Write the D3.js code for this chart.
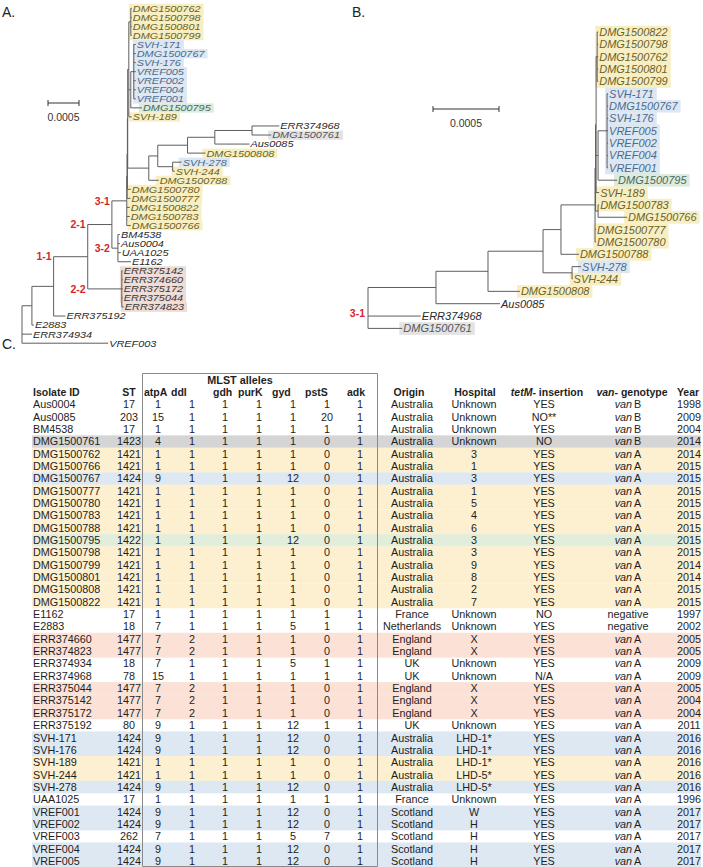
<!DOCTYPE html>
<html><head><meta charset="utf-8">
<script src="https://cdn.jsdelivr.net/npm/d3@7"></script>
<style>
body{margin:0;background:#fff}
svg{display:block}
text{font-family:"Liberation Sans",Arial,Helvetica,sans-serif}
</style>
</head><body>
<svg id="c" width="703" height="867"></svg>
<script>
// ---------------- DATA ----------------
// Branch lengths in units of 1e-5 substitutions/site
const treeA = "(((((((((((DMG1500762:1.6,DMG1500798:1.6,DMG1500801:1.6,DMG1500799:1.6):3.2,((SVH-171:3.2,DMG1500767:3.2,SVH-176:3.2,VREF005:3.2,VREF002:3.2,VREF004:3.2,VREF001:3.2):4.8,DMG1500795:18):3.2,SVH-189:4.8):1.8,(((((ERR374968:44,DMG1500761:31):60,Aus0085:56):44,DMG1500808:29):48,(SVH-278:14.5,SVH-244:3.2):24):14.5,DMG1500788:16):34):0.5,DMG1500780:5.5):0.5,DMG1500777:5.5):0.5,DMG1500822:4.8,DMG1500783:4.8,DMG1500766:6.5)3-1:24,(BM4538:3.2,Aus0004:3.2,UAA1025:4.8,E1162:21)3-2:9.7)2-1:39,(ERR375142:1.6,ERR374660:1.6,ERR375172:1.6,ERR375044:1.6,ERR374823:3.2)2-2:55)1-1:55,ERR375192:19):35,E2883:3.2):16,ERR374934:16,VREF003:139);";
const treeB = "(((((((((DMG1500822:0.8,DMG1500798:0.8,DMG1500762:0.8,DMG1500801:0.8,DMG1500799:0.8):0.8,((SVH-171:0.8,DMG1500767:0.8,SVH-176:0.8,VREF005:0.8,VREF002:0.8,VREF004:0.8,VREF001:0.8):6.8,DMG1500795:14.4):1.5,SVH-189:2.3):0.4,(DMG1500783:0.8,DMG1500766:22):1.9):0.4,DMG1500777:0.8,DMG1500780:0.8):25.8,DMG1500788:13.6):13.6,(SVH-278:6.8,SVH-244:0.4):22):41.7,DMG1500808:24.2):39.4,Aus0085:48.5):51.5,ERR374968:40,DMG1500761:26)3-1;";
const branchUnit = 1e-5;
const scaleBarValue = 0.0005;

const isolates = ["Aus0004","Aus0085","BM4538","DMG1500761","DMG1500762","DMG1500766","DMG1500767","DMG1500777","DMG1500780","DMG1500783","DMG1500788","DMG1500795","DMG1500798","DMG1500799","DMG1500801","DMG1500808","DMG1500822","E1162","E2883","ERR374660","ERR374823","ERR374934","ERR374968","ERR375044","ERR375142","ERR375172","ERR375192","SVH-171","SVH-176","SVH-189","SVH-244","SVH-278","UAA1025","VREF001","VREF002","VREF003","VREF004","VREF005"];
const st    = [17,203,17,1423,1421,1421,1424,1421,1421,1421,1421,1422,1421,1421,1421,1421,1421,17,18,1477,1477,18,78,1477,1477,1477,80,1424,1424,1421,1421,1424,17,1424,1424,262,1424,1424];
const atpA  = [1,15,1,4,1,1,9,1,1,1,1,1,1,1,1,1,1,1,7,7,7,7,15,7,7,7,9,9,9,1,1,9,1,9,9,7,9,9];
const ddl   = [1,1,1,1,1,1,1,1,1,1,1,1,1,1,1,1,1,1,1,2,2,1,1,2,2,2,1,1,1,1,1,1,1,1,1,1,1,1];
const gdh   = [1,1,1,1,1,1,1,1,1,1,1,1,1,1,1,1,1,1,1,1,1,1,1,1,1,1,1,1,1,1,1,1,1,1,1,1,1,1];
const purK  = [1,1,1,1,1,1,1,1,1,1,1,1,1,1,1,1,1,1,1,1,1,1,1,1,1,1,1,1,1,1,1,1,1,1,1,1,1,1];
const gyd   = [1,1,1,1,1,1,12,1,1,1,1,12,1,1,1,1,1,1,5,1,1,5,1,1,1,1,12,12,12,1,1,12,1,12,12,5,12,12];
const pstS  = [1,20,1,0,0,0,0,0,0,0,0,0,0,0,0,0,0,1,1,0,0,1,1,0,0,0,1,0,0,0,0,0,1,0,0,7,0,0];
const adk   = [1,1,1,1,1,1,1,1,1,1,1,1,1,1,1,1,1,1,1,1,1,1,1,1,1,1,1,1,1,1,1,1,1,1,1,1,1,1];
const origin = ["Australia","Australia","Australia","Australia","Australia","Australia","Australia","Australia","Australia","Australia","Australia","Australia","Australia","Australia","Australia","Australia","Australia","France","Netherlands","England","England","UK","UK","England","England","England","UK","Australia","Australia","Australia","Australia","Australia","France","Scotland","Scotland","Scotland","Scotland","Scotland"];
const hospital = ["Unknown","Unknown","Unknown","Unknown","3","1","3","1","5","4","6","3","3","9","8","2","7","Unknown","Unknown","X","X","Unknown","Unknown","X","X","X","Unknown","LHD-1*","LHD-1*","LHD-1*","LHD-5*","LHD-5*","Unknown","W","H","H","H","H"];
const tetM = ["YES","NO**","YES","NO","YES","YES","YES","YES","YES","YES","YES","YES","YES","YES","YES","YES","YES","NO","YES","YES","YES","YES","N/A","YES","YES","YES","YES","YES","YES","YES","YES","YES","YES","YES","YES","YES","YES","YES"];
const vanGenotype = ["B","B","B","B","A","A","A","A","A","A","A","A","A","A","A","A","A","negative","negative","A","A","A","A","A","A","A","A","A","A","A","A","A","A","A","A","A","A","A"];
const year = [1998,2009,2004,2014,2014,2015,2015,2015,2015,2015,2015,2015,2015,2014,2014,2015,2015,1997,2002,2005,2005,2009,2009,2005,2004,2004,2011,2016,2016,2016,2016,2016,1996,2017,2017,2017,2017,2017];
const alleleNames = ["atpA","ddl","gdh","purK","gyd","pstS","adk"];
const alleleValues = [atpA, ddl, gdh, purK, gyd, pstS, adk];

// ---------------- STYLE ----------------
const tableFill = {1421:"#fdf0d0",1424:"#dde8f3",1422:"#e2eedb",1423:"#d5d5d5",1477:"#fbe1d6"};
const treeFill  = {1421:"#f7efc3",1424:"#dce7f2",1422:"#dcebdd",1423:"#e3e3e3",1477:"#ecdcd5"};
const treeTextCol = {1421:"#6c6226",1424:"#4b6b8f",1422:"#4a6a58",1423:"#555555",1477:"#3d3535"};
const stOf = new Map(isolates.map((d,i)=>[d, st[i]]));

const svg = d3.select("#c");

// ---------------- NEWICK ----------------
function parseNewick(s){
  let i=0;
  function node(){
    const n={};
    if(s[i]==='('){
      n.children=[]; i++;
      n.children.push(node());
      while(s[i]===','){ i++; n.children.push(node()); }
      i++;
    }
    let name=''; while(i<s.length && !',():;'.includes(s[i])) name+=s[i++];
    n.name=name.trim();
    n.length=0;
    if(s[i]===':'){ i++; let l=''; while(i<s.length && !',();'.includes(s[i])) l+=s[i++]; n.length=+l; }
    return n;
  }
  return node();
}

function drawTree(opt){
  const root = d3.hierarchy(parseNewick(opt.newick));
  root.each(n=>{ n.dist = n.parent ? n.parent.dist + n.data.length*branchUnit : 0; });
  const leaves = root.leaves();
  const x = d3.scaleLinear().domain([0, scaleBarValue]).range([opt.rootX, opt.rootX + opt.barPx]);
  const y = d3.scaleLinear().domain([0, leaves.length-1]).range([opt.y0, opt.y1]);
  leaves.forEach((l,i)=>{ l.py = y(i); });
  root.eachAfter(n=>{ if(n.children){ n.py = (n.children[0].py + n.children[n.children.length-1].py)/2; } });
  root.each(n=>{ n.px = x(n.dist); });
  const step = (opt.y1-opt.y0)/(leaves.length-1);

  const g = svg.append("g");
  const gRect = g.append("g"), gLine = g.append("g"), gText = g.append("g");
  const lineCol = "#5e5e5e";
  root.descendants().forEach(n=>{
    if(n.parent){
      gLine.append("line").attr("x1",n.parent.px).attr("x2",n.px).attr("y1",n.py).attr("y2",n.py)
        .attr("stroke",lineCol).attr("stroke-width",1);
    }
    if(n.children){
      gLine.append("line").attr("x1",n.px).attr("x2",n.px)
        .attr("y1",n.children[0].py).attr("y2",n.children[n.children.length-1].py)
        .attr("stroke",lineCol).attr("stroke-width",1);
    }
  });
  leaves.forEach(l=>{
    const s = stOf.get(l.data.name);
    const t = gText.append("text").attr("x", l.px+1).attr("y", l.py).attr("dy","0.36em")
      .attr("font-size", opt.fontSize).attr("font-style","italic")
      .attr("fill", treeTextCol[s] || "#2a2a2a").text(l.data.name);
    let w = t.node().getComputedTextLength();
    if(opt.stretch !== 1){
      w = w*opt.stretch;
      t.attr("textLength", w).attr("lengthAdjust","spacingAndGlyphs");
    }
    if(treeFill[s]){
      gRect.append("rect").attr("x", l.px-3).attr("y", l.py-step/2).attr("width", w+7).attr("height", step+0.3)
        .attr("fill", treeFill[s]);
    }
  });
  // clade labels
  root.descendants().filter(n=>n.children && n.data.name).forEach(n=>{
    const lx = n.parent ? n.parent.px - 2 : n.px - 3;
    const ly = n.parent ? n.py : n.py + 5;
    gText.append("text").attr("x", lx).attr("y", ly).attr("dy","0.36em").attr("text-anchor","end")
      .attr("font-size",10.5).attr("font-weight","bold").attr("fill","#d6262b").text(n.data.name);
  });
  // scale bar
  const sb = g.append("g");
  const bx0 = opt.barX, bx1 = opt.barX + (x(scaleBarValue)-x(0));
  sb.append("line").attr("x1",bx0).attr("x2",bx1).attr("y1",opt.barY).attr("y2",opt.barY).attr("stroke","#333");
  [bx0,bx1].forEach(v=>sb.append("line").attr("x1",v).attr("x2",v).attr("y1",opt.barY-3).attr("y2",opt.barY+3).attr("stroke","#333"));
  sb.append("text").attr("x",(bx0+bx1)/2).attr("y",opt.barY+14).attr("dy","0.36em").attr("text-anchor","middle")
    .attr("font-size",10.5).attr("fill","#333").text(String(scaleBarValue));
}

drawTree({newick:treeA, rootX:22, barPx:31, y0:8.3, y1:343.2, barX:48, barY:103, fontSize:9.4, stretch:1.16});
drawTree({newick:treeB, rootX:368, barPx:66, y0:32, y1:328.4, barX:433, barY:109, fontSize:11, stretch:1});

// panel letters
[["A.",2,17],["B.",352,17],["C.",2,349]].forEach(([t,px,py])=>{
  svg.append("text").attr("x",px).attr("y",py).attr("font-size",14).attr("fill","#222").text(t);
});

// ---------------- TABLE ----------------
const tg = svg.append("g");
const rowY = d3.scaleLinear().domain([0, isolates.length-1]).range([404.5, 861]);
const rowH = rowY(1)-rowY(0);
isolates.forEach((d,i)=>{
  if(tableFill[st[i]]) tg.append("rect").attr("x",32).attr("y",rowY(i)-rowH/2).attr("width",669).attr("height",rowH+0.2).attr("fill",tableFill[st[i]]);
});
// box
const box = {x0:142.5, x1:377.5, y0:373.5, y1:866.5};
tg.append("path").attr("d",`M${box.x0},${box.y1}V${box.y0}H${box.x1}V${box.y1}H${box.x0}`).attr("fill","none").attr("stroke","#8a8a8a").attr("stroke-width",1);

const fs = 10.8, col = "#1e1e1e";
function txt(x,y,s,anchor){ return tg.append("text").attr("x",x).attr("y",y).attr("dy","0.36em").attr("font-size",fs).attr("fill",col).attr("text-anchor",anchor||"middle").text(s); }

// headers
const hy = 392;
tg.append("text").attr("x",240).attr("y",380).attr("dy","0.36em").attr("text-anchor","middle").attr("font-size",10.8).attr("font-weight","bold").attr("fill",col).text("MLST alleles");
function head(x,s,anchor){ return tg.append("text").attr("x",x).attr("y",hy).attr("dy","0.36em").attr("font-size",10.5).attr("font-weight","bold").attr("fill",col).attr("text-anchor",anchor||"middle").text(s); }
head(33,"Isolate ID","start");
head(129,"ST");
const headerX = [144,171,213,238,272,305,347];
alleleNames.forEach((a,k)=>head(headerX[k],a,"start"));
head(409,"Origin");
head(475,"Hospital");
const th = head(547,"");
th.append("tspan").attr("font-style","italic").text("tetM-");
th.append("tspan").text(" insertion");
const vh = head(632,"");
vh.append("tspan").attr("font-style","italic").text("van-");
vh.append("tspan").text(" genotype");
head(688,"Year");

const alleleX = [158,192,225,259,293,327,360];
isolates.forEach((d,i)=>{
  const yy = rowY(i);
  txt(33,yy,d,"start");
  txt(129,yy,st[i]);
  alleleValues.forEach((arr,k)=>txt(alleleX[k],yy,arr[i]));
  txt(412,yy,origin[i]);
  txt(474,yy,hospital[i]);
  txt(544,yy,tetM[i]);
  if(vanGenotype[i]==="negative"){ txt(628,yy,"negative"); }
  else {
    const t = txt(628,yy,"");
    t.append("tspan").attr("font-style","italic").text("van");
    t.append("tspan").attr("dx",2).text(vanGenotype[i]);
  }
  txt(689,yy,year[i]);
});
</script>
</body></html>
